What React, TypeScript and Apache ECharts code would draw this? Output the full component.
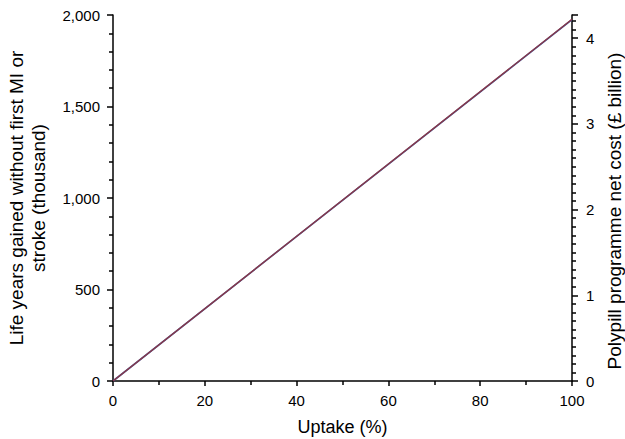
import React, { useEffect, useRef } from "react";
import * as echarts from "echarts";

const uptake = [0, 100];
const lifeYears = [0, 1975];
const netCost = [0, 4.22];

const FONT = "Liberation Sans, Arial, sans-serif";

export default function App() {
  const ref = useRef<HTMLDivElement>(null);
  useEffect(() => {
    if (!ref.current) return;
    const chart = echarts.init(ref.current, undefined, { renderer: "svg" });
    const axisLine = { show: true, onZero: false, lineStyle: { color: "#000", width: 1.5 } };
    chart.setOption({
      animation: false,
      backgroundColor: "#fff",
      textStyle: { fontFamily: FONT },
      grid: { left: 113, right: 53, top: 15, bottom: 58, outerBoundsMode: "none", containLabel: false },
      xAxis: {
        type: "value",
        min: 0,
        max: 100,
        interval: 20,
        name: "Uptake (%)",
        nameLocation: "middle",
        nameGap: 37,
        nameTextStyle: { fontSize: 18, color: "#000", fontFamily: FONT },
        axisLine,
        axisTick: { show: true, length: 5, lineStyle: { color: "#000", width: 1.5 } },
        minorTick: { show: true, splitNumber: 2, length: 4, lineStyle: { color: "#000", width: 1.5 } },
        axisLabel: { color: "#000", fontSize: 15, margin: 12, fontFamily: FONT },
        splitLine: { show: false },
      },
      yAxis: [
        {
          type: "value",
          min: 0,
          max: 2000,
          interval: 500,
          position: "left",
          name: "Life years gained without first MI or\nstroke (thousand)",
          nameLocation: "middle",
          nameGap: 64,
          nameTextStyle: { fontSize: 19, color: "#000", fontFamily: FONT, lineHeight: 22 },
          axisLine,
          axisTick: { show: true, length: 6, lineStyle: { color: "#000", width: 1.5 } },
          minorTick: { show: true, splitNumber: 5, length: 4, lineStyle: { color: "#000", width: 1.5 } },
          axisLabel: {
            color: "#000",
            fontSize: 15,
            margin: 13,
            fontFamily: FONT,
            formatter: (v: number) => v.toLocaleString("en-US"),
          },
          splitLine: { show: false },
        },
        {
          type: "value",
          min: 0,
          max: 4.27,
          interval: 1,
          position: "right",
          name: "Polypill programme net cost (£ billion)",
          nameLocation: "middle",
          nameGap: 32,
          nameTextStyle: { fontSize: 19, color: "#000", fontFamily: FONT, padding: [0, 26, 0, 0] },
          axisLine,
          axisTick: { show: true, length: 6, lineStyle: { color: "#000", width: 1.5 } },
          minorTick: { show: true, splitNumber: 10, length: 4, lineStyle: { color: "#000", width: 1.5 } },
          axisLabel: {
            color: "#000",
            fontSize: 15,
            margin: 14,
            fontFamily: FONT,
            formatter: (v: number) => (Number.isInteger(v) ? String(v) : ""),
          },
          splitLine: { show: false },
        },
      ],
      series: [
        {
          type: "line",
          yAxisIndex: 0,
          data: uptake.map((u, i) => [u, lifeYears[i]]),
          symbol: "none",
          lineStyle: { color: "#3b4a8c", width: 1.6 },
          silent: true,
        },
        {
          type: "line",
          yAxisIndex: 1,
          data: uptake.map((u, i) => [u, netCost[i]]),
          symbol: "none",
          lineStyle: { color: "#8a3848", width: 1.3 },
          silent: true,
        },
      ],
    });
    return () => chart.dispose();
  }, []);
  return (
    <div
      ref={ref}
      style={{ position: "absolute", left: 0, top: 0, width: 625, height: 439 }}
    />
  );
}
